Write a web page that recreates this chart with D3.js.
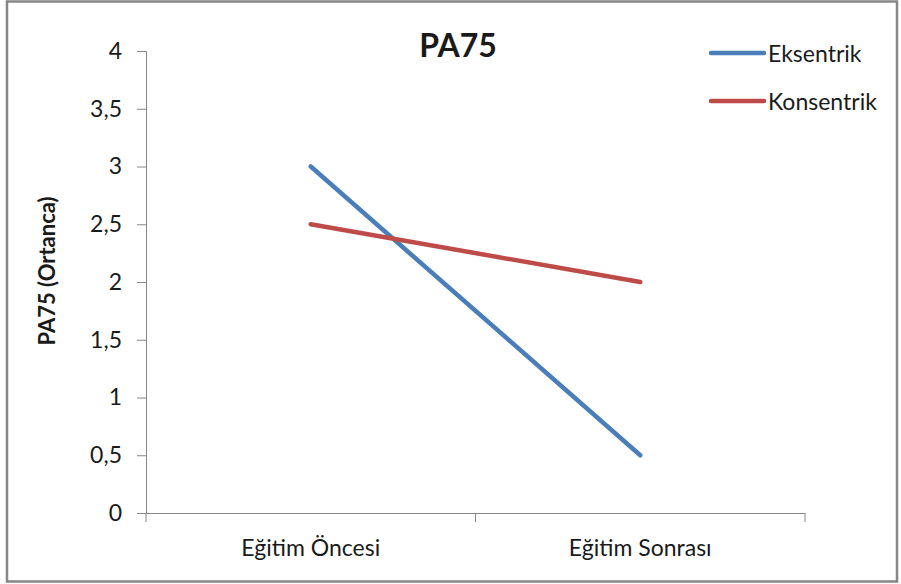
<!DOCTYPE html>
<html>
 <head>
  <meta charset="utf-8">
  <title>PA75</title>
  <script src="https://d3js.org/d3.v7.min.js"></script>
  <style>
    body{margin:0;background:#fff;}
    text{font-family:Lato,"Open Sans",sans-serif;fill:#1a1a1a;}
  </style>
 </head>
 <body>
  <svg></svg>
  <script>
    var svgWidth=901,svgHeight=584;

    var categories=["Eğitim Öncesi","Eğitim Sonrası"];
    var seriesNames=["Eksentrik","Konsentrik"];
    var eksentrik=[3,0.5];
    var konsentrik=[2.5,2];
    var yTicks=[0,0.5,1,1.5,2,2.5,3,3.5,4];
    var colors=["#4a7ebb","#be4b48"];

    var svg=d3.select("svg").attr("width",svgWidth).attr("height",svgHeight);

    // outer frame
    svg.append("rect").attr("x",7).attr("y",1.5).attr("width",890).attr("height",580)
       .attr("fill","#fff").attr("stroke","#868686").attr("stroke-width",2.5);

    var x=d3.scaleBand().domain(categories).range([146,805]);
    var y=d3.scaleLinear().domain([0,4]).range([513,51]);
    var fmt=function(d){return String(d).replace(".",",");};

    var yAxis=svg.append("g").attr("transform","translate(146,0)")
       .call(d3.axisLeft(y).tickValues(yTicks).tickSize(9).tickPadding(15).tickFormat(fmt));
    yAxis.selectAll("text").style("font-size","23px").attr("fill","#1a1a1a");

    var xAxis=svg.append("g").attr("transform","translate(0,513)")
       .call(d3.axisBottom(x).tickSize(0).tickPadding(27));
    xAxis.selectAll("text").style("font-size","23px").attr("fill","#1a1a1a");
    // x ticks between categories
    xAxis.selectAll(".sep").data([146,475.5,805]).enter().append("line")
       .attr("x1",function(d){return d;}).attr("x2",function(d){return d;})
       .attr("y1",0).attr("y2",9).attr("stroke","#868686");

    svg.selectAll(".domain, .tick line").attr("stroke","#868686");

    var line=d3.line()
       .x(function(d,i){return x(categories[i])+x.bandwidth()/2;})
       .y(function(d){return y(d);});

    [eksentrik,konsentrik].forEach(function(s,i){
      svg.append("path").attr("d",line(s)).attr("fill","none")
         .attr("stroke",colors[i]).attr("stroke-width",4.5).attr("stroke-linecap","round");
    });

    svg.append("text").attr("x",458).attr("y",57).attr("text-anchor","middle")
       .style("font-size","32px").style("font-weight","bold").text("PA75");

    svg.append("text").attr("transform","translate(55,271) rotate(-90)").attr("text-anchor","middle")
       .style("font-size","22px").style("font-weight","bold").text("PA75 (Ortanca)");

    var legend=svg.selectAll(".leg").data(seriesNames).enter().append("g")
       .attr("transform",function(d,i){return "translate(711,"+(53+i*48)+")";});
    legend.append("line").attr("x1",0).attr("x2",53).attr("stroke",function(d,i){return colors[i];})
       .attr("stroke-width",4.5).attr("stroke-linecap","round");
    legend.append("text").attr("x",57).attr("y",8.5).style("font-size","23px").text(function(d){return d;});
  </script>
 </body>
</html>
